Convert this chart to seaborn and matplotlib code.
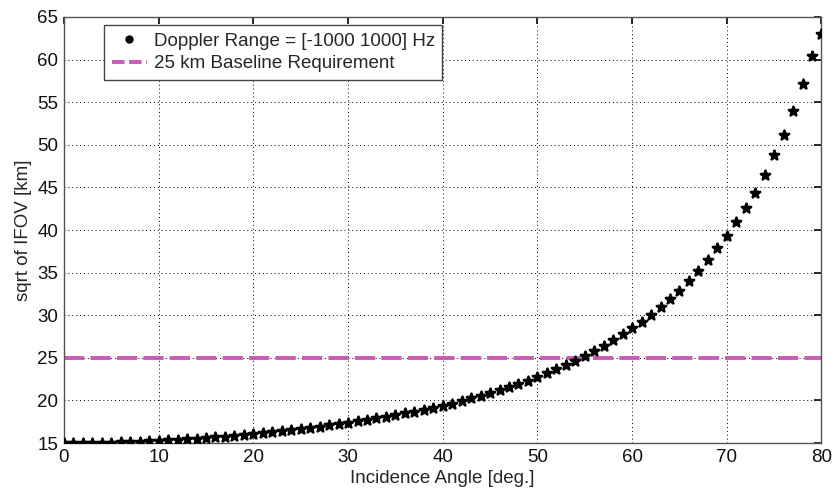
import numpy as np
import pandas as pd
import seaborn as sns
import matplotlib.pyplot as plt
from matplotlib.lines import Line2D

# data
angle = list(range(0, 81))
sqrt_ifov = [
    15.00, 15.00, 15.01, 15.02, 15.04, 15.06, 15.09, 15.12, 15.16, 15.20,
    15.25, 15.30, 15.36, 15.42, 15.50, 15.57, 15.65, 15.74, 15.83, 15.93,
    16.03, 16.14, 16.25, 16.37, 16.50, 16.63, 16.77, 16.91, 17.06, 17.22,
    17.38, 17.55, 17.72, 17.90, 18.09, 18.28, 18.48, 18.69, 18.90, 19.12,
    19.35, 19.62, 19.95, 20.25, 20.53, 20.85, 21.20, 21.55, 21.92, 22.32,
    22.76, 23.22, 23.67, 24.14, 24.65, 25.20, 25.80, 26.42, 27.07, 27.76,
    28.47, 29.22, 30.05, 30.95, 31.90, 32.90, 34.00, 35.20, 36.50, 37.85,
    39.30, 40.90, 42.55, 44.40, 46.45, 48.80, 51.15, 54.00, 57.10, 60.40,
    63.00,
]
baseline = 25
x_ticks = [0, 10, 20, 30, 40, 50, 60, 70, 80]
y_ticks = [15, 20, 25, 30, 35, 40, 45, 50, 55, 60, 65]

df = pd.DataFrame({"angle": angle, "ifov": sqrt_ifov})

sns.set_theme(style="white")
plt.rcParams['font.family'] = ['Liberation Sans', 'DejaVu Sans']

fig = plt.figure(figsize=(8.34, 4.94), dpi=100)
ax = fig.add_axes([0.0767, 0.1032, 0.9083, 0.8624])

ax.axhline(baseline, color="#c95bb5", lw=2.8, ls=(0, (5.2, 1.6)), zorder=2)
sns.scatterplot(data=df, x="angle", y="ifov", ax=ax, color="black",
                marker="*", s=50, edgecolor="black", linewidth=1.8,
                legend=False, zorder=3)

ax.set_xlim(0, 80)
ax.set_ylim(15, 65)
ax.set_xticks(x_ticks)
ax.set_yticks(y_ticks)
ax.grid(True, color="black", ls=(0, (1, 3)), lw=0.7)
ax.tick_params(direction="in", top=True, right=True, length=5,
               labelsize=13.5, colors="#111111", pad=4)
for s in ax.spines.values():
    s.set_color("#555555")
    s.set_linewidth(1.0)
ax.set_xlabel("Incidence Angle [deg.]", fontsize=13.5, labelpad=3)
ax.set_ylabel("sqrt of IFOV [km]", fontsize=13.5, labelpad=4)

handles = [
    Line2D([], [], ls="none", marker="o", color="black", markersize=5),
    Line2D([], [], color="#c95bb5", lw=2.8, ls=(0, (3.2, 1.2))),
]
labels = ["Doppler Range = [-1000 1000] Hz", "25 km Baseline Requirement"]
leg = ax.legend(handles, labels, loc="upper left",
                bbox_to_anchor=(0.053, 0.981), borderaxespad=0,
                fontsize=13.5, frameon=True, fancybox=False, framealpha=1,
                edgecolor="#444444", borderpad=0.4, labelspacing=0.3,
                handlelength=1.9, handletextpad=0.35)
leg.get_frame().set_linewidth(1.0)

plt.savefig("out.png", dpi=100)
